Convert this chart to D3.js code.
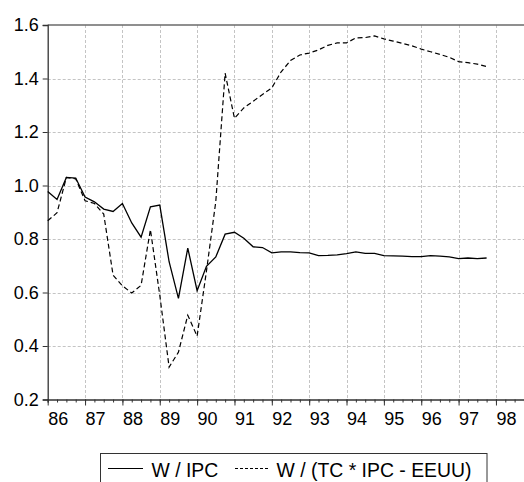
<!DOCTYPE html>
<html><head><meta charset="utf-8">
<script src="https://cdn.jsdelivr.net/npm/d3@7/dist/d3.min.js"></script>
<style>body{margin:0;background:#fff;} text{font-family:"Liberation Sans",Arial,sans-serif;fill:#000;}</style>
</head><body><svg id="c" width="524" height="482"></svg>
<script>
// Quarterly data 1986Q1 .. 1997Q4
const startYear = 1986;
const wIPC = [0.978,0.948,1.030,1.028, 0.957,0.939,0.912,0.903, 0.933,0.860,0.807,0.920,
  0.927,0.715,0.578,0.766, 0.607,0.698,0.733,0.818, 0.825,0.803,0.771,0.768,
  0.748,0.752,0.752,0.749, 0.748,0.738,0.739,0.741, 0.745,0.752,0.746,0.746,
  0.738,0.737,0.736,0.734, 0.734,0.738,0.736,0.733, 0.727,0.729,0.727,0.729];
const wTC = [0.868,0.898,1.030,1.025, 0.943,0.933,0.893,0.665, 0.625,0.598,0.627,0.835,
  0.590,0.321,0.377,0.515, 0.437,0.680,0.940,1.420, 1.251,1.290,1.315,1.340,
  1.365,1.425,1.467,1.488, 1.495,1.507,1.524,1.533, 1.533,1.552,1.553,1.559,
  1.548,1.540,1.531,1.522, 1.510,1.500,1.490,1.479, 1.463,1.459,1.454,1.445];
const yTicks = [0.2,0.4,0.6,0.8,1.0,1.2,1.4,1.6];
const yearLabels = ["86","87","88","89","90","91","92","93","94","95","96","97","98"];
const seriesNames = ["W / IPC","W / (TC * IPC - EEUU)"];

const svg = d3.select("#c");
const x = d3.scaleLinear().domain([1986,1999]).range([47.7,533.3]);
const y = d3.scaleLinear().domain([0.2,1.6]).range([399.5,25]);
const t = i => startYear + i/4;

// grid
const grid = svg.append("g").attr("stroke","#c4c4c4").attr("stroke-width",1).attr("stroke-dasharray","3,2");
yTicks.slice(1,-1).forEach(v=>grid.append("line").attr("x1",x(1986)).attr("x2",524).attr("y1",Math.round(y(v))+0.5).attr("y2",Math.round(y(v))+0.5));
yearLabels.slice(1).forEach((l,i)=>{const xx=Math.round(x(1987+i))+0.5;grid.append("line").attr("x1",xx).attr("x2",xx).attr("y1",y(1.6)).attr("y2",y(0.2));});

// top border
svg.append("line").attr("x1",x(1986)).attr("x2",524).attr("y1",y(1.6)).attr("y2",y(1.6)).attr("stroke","#6a6a6a").attr("stroke-width",1.5);

// left axis
const yAxis = d3.axisLeft(y).tickValues(yTicks).tickFormat(d3.format(".1f")).tickSize(5).tickPadding(4);
const gy = svg.append("g").attr("transform",`translate(${x(1986)},0)`).call(yAxis);
gy.select(".domain").attr("stroke","#333").attr("stroke-width",1.3);
gy.selectAll(".tick line").attr("stroke","#333");
gy.selectAll("text").attr("font-size",18).attr("font-family","Liberation Sans, Arial, sans-serif").attr("fill","#000");

// bottom axis
const quarters = d3.range(0,13*4+1).map(i=>1986+i/4);
const xAxisMinor = d3.axisBottom(x).tickValues(quarters).tickFormat("").tickSize(3);
const gxm = svg.append("g").attr("transform",`translate(0,${y(0.2)})`).call(xAxisMinor);
gxm.select(".domain").attr("stroke","#333").attr("stroke-width",1.3);
gxm.selectAll(".tick line").attr("stroke","#333");
const xAxis = d3.axisBottom(x).tickValues(d3.range(1986,1999)).tickFormat("").tickSize(6);
const gx = svg.append("g").attr("transform",`translate(0,${y(0.2)})`).call(xAxis);
gx.select(".domain").remove();
gx.selectAll(".tick line").attr("stroke","#333");
svg.append("g").selectAll("text").data(yearLabels).join("text")
  .attr("x",(d,i)=>x(1986+i)+10.5).attr("y",425).attr("text-anchor","middle").attr("font-size",18).text(d=>d);

// lines
const line = d3.line().x((d,i)=>x(t(i))).y(d=>y(d));
svg.append("path").datum(wTC).attr("d",line).attr("fill","none").attr("stroke","#000").attr("stroke-width",1.2).attr("stroke-dasharray","5,3");
svg.append("path").datum(wIPC).attr("d",line).attr("fill","none").attr("stroke","#000").attr("stroke-width",1.3);

// legend
const lg = svg.append("g");
lg.append("rect").attr("x",100.5).attr("y",453.5).attr("width",386.5).attr("height",40).attr("fill","#fff").attr("stroke","#333").attr("stroke-width",1);
lg.append("line").attr("x1",108).attr("x2",143).attr("y1",468.5).attr("y2",468.5).attr("stroke","#000").attr("stroke-width",1);
lg.append("text").attr("x",151.5).attr("y",476.5).attr("font-size",19.4).text(seriesNames[0]);
lg.append("line").attr("x1",235).attr("x2",269).attr("y1",468.5).attr("y2",468.5).attr("stroke","#000").attr("stroke-width",1).attr("stroke-dasharray","3,2");
lg.append("text").attr("x",276.5).attr("y",476.5).attr("font-size",19.4).text(seriesNames[1]);
</script></body></html>
